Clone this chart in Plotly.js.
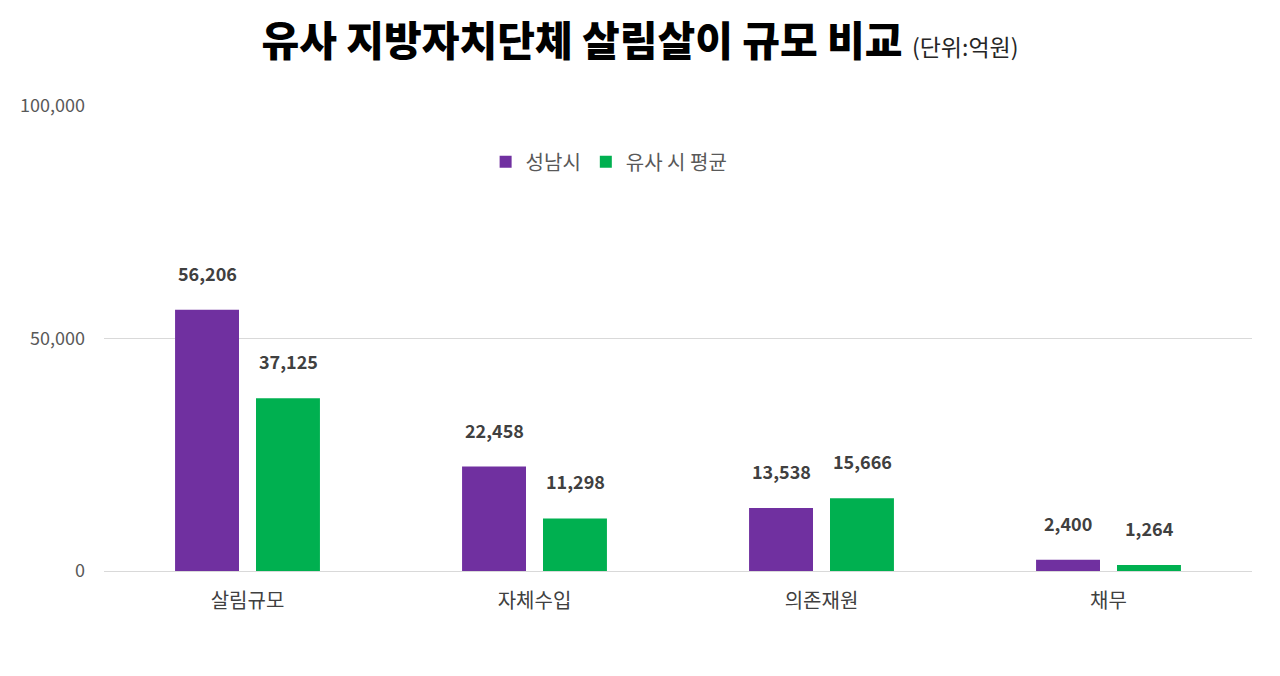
<!DOCTYPE html>
<html><head><meta charset="utf-8">
<script src="https://cdn.plot.ly/plotly-3.0.1.min.js"></script>
<style>html,body{margin:0;padding:0;background:#fff;}#chart{width:1280px;height:676px;}</style>
</head><body><div id="chart"></div>
<script>
const categories = ['살림규모', '자체수입', '의존재원', '채무'];
const seongnam = [56206, 22458, 13538, 2400];
const similarAvg = [37125, 11298, 15666, 1264];
const seriesNames = ['성남시', '유사 시 평균'];
const tickVals = [0, 50000, 100000];
const tickText = ['0', '50,000', '100,000'];

const FONT = '"Noto Sans CJK KR", "Noto Sans", sans-serif';
const fmt = v => v.toLocaleString('en-US');

const traces = [
  {type:'bar', name: seriesNames[0], x: categories, y: seongnam, marker:{color:'#7030A0'}, hoverinfo:'none'},
  {type:'bar', name: seriesNames[1], x: categories, y: similarAvg, marker:{color:'#00B050'}, hoverinfo:'none'}
];

const annotations = [];
[seongnam, similarAvg].forEach((arr, si) => {
  arr.forEach((v, i) => {
    annotations.push({
      x: categories[i], y: v, xref:'x', yref:'y', text: fmt(v), showarrow:false,
      xshift: si === 0 ? -40.5 : 40.5, yshift: 37, yanchor:'middle',
      font:{family:FONT, size:18, color:'#404040', weight:700}
    });
  });
});

const layout = {
  width:1280, height:676,
  margin:{l:104, r:28, t:106, b:105},
  paper_bgcolor:'#fff', plot_bgcolor:'#fff',
  font:{family:FONT, color:'#595959'},
  title:{
    text:'<span style="font-weight:900">유사 지방자치단체 살림살이 규모 비교</span> <span style="font-size:23px;font-weight:400;color:#262626">(단위:억원)</span>',
    font:{family:FONT, size:41, color:'#000', weight:900},
    xref:'container', x:0.5, xanchor:'center', yref:'container', y:1-42/676, yanchor:'middle'
  },
  barmode:'group', bargap:0.436, bargroupgap:0.21,
  showlegend:true,
  legend:{orientation:'h', x:0.44, xanchor:'center', y:0.88, yanchor:'middle',
    font:{family:FONT, size:20, color:'#595959'}, itemwidth:30, traceorder:'normal'},
  xaxis:{tickfont:{family:FONT, size:20, color:'#404040'}, showgrid:false, showline:false, ticks:'', ticklabelstandoff:16},
  yaxis:{range:[0,100000], tickvals:tickVals, ticktext:tickText, tickfont:{family:FONT, size:18, color:'#595959'},
    showgrid:true, gridcolor:'#d9d9d9', gridwidth:1, zeroline:true, zerolinecolor:'#d9d9d9', zerolinewidth:1,
    showline:false, ticks:'', ticklabelstandoff:18, fixedrange:true},
  annotations: annotations
};

Plotly.newPlot('chart', traces, layout, {displayModeBar:false, staticPlot:true});
</script></body></html>
